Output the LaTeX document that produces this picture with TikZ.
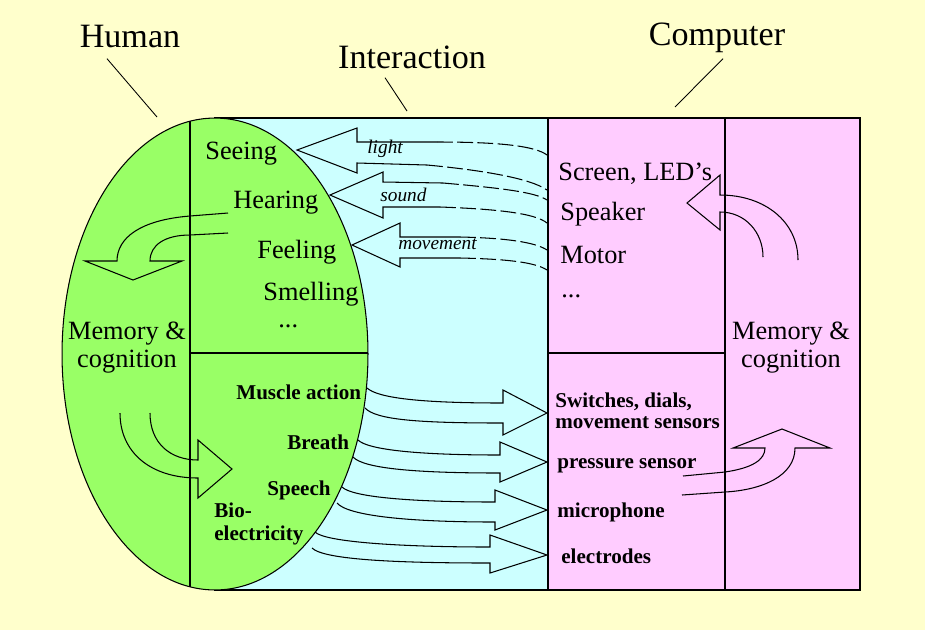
\documentclass[tikz,border=0pt]{standalone}
\usepackage{fontspec}
\setmainfont{Liberation Serif}
\usepackage{xcolor}
\usepackage{tikz}
\definecolor{hcibg}{HTML}{FFFFCC}
\definecolor{hcigreen}{HTML}{99FF66}
\definecolor{hcicyan}{HTML}{CCFFFF}
\definecolor{hcipink}{HTML}{FFCCFF}

\begin{document}
\begin{tikzpicture}[x=0.02cm, y=-0.02cm,
  every node/.style={inner sep=0pt, text=black},
  title/.style={font=\fontsize{19.4pt}{22pt}\selectfont, anchor=base},
  sense/.style={font=\fontsize{15pt}{16pt}\selectfont, anchor=base west},
  act/.style={font=\fontsize{12pt}{12pt}\selectfont\bfseries, anchor=base west, align=left},
  medium/.style={font=\fontsize{11pt}{12pt}\selectfont\itshape, anchor=base west},
  mind/.style={font=\fontsize{15pt}{16pt}\selectfont, align=center},
  frame/.style={draw=black, line width=0.6pt},
  outline/.style={draw=black, line width=0.6pt, line join=miter},
  wave/.style={outline, dash pattern=on 9pt off 2.5pt},
  leader/.style={draw=black, line width=0.5pt}
]
  \useasboundingbox (0,0) rectangle (925,630);
  \fill[hcibg] (0,0) rectangle (925,630);

  % panels
  \filldraw[fill=hcicyan, frame] (215,118) rectangle (548,590);
  \filldraw[fill=hcipink, frame] (548,118) rectangle (860,590);
  \draw[frame] (725,118) -- (725,590);
  \draw[frame] (548,353) -- (725,353);

  % the human
  \filldraw[fill=hcigreen, frame] (215,354) ellipse [x radius=3.06cm, y radius=4.72cm];
  \begin{scope}
    \clip (215,354) ellipse [x radius=3.06cm, y radius=4.72cm];
    \draw[frame] (190,100) -- (190,600);
    \draw[frame] (190,353) -- (400,353);
  \end{scope}

  % titles
  \node[title] (human) at (130,47) {Human};
  \node[title] (interaction) at (412,68) {Interaction};
  \node[title] (computer) at (717,45) {Computer};
  \coordinate (humanfoot) at (157,117);
  \coordinate (interfoot) at (407,111);
  \coordinate (compfoot) at (675,107);
  \draw[leader] ([shift={(-23,11)}]human.south) -- (humanfoot);
  \draw[leader] ([shift={(-27,9)}]interaction.south) -- (interfoot);
  \draw[leader] ([shift={(6,6)}]computer.south) -- (compfoot);

  % senses
  \node[sense] (seeing) at (205,159) {Seeing};
  \node[sense] (hearing) at (233,208) {Hearing};
  \node[sense] (feeling) at (257,258) {Feeling};
  \node[sense] (smelling) at (263,300) {Smelling};
  \node[sense] (hmore) at (278,327) {...};
  \node[mind] (hmind) at (127,348) {Memory \&\\cognition};

  % effectors
  \node[act] (muscle) at (236,399) {Muscle action};
  \node[act] (breath) at (287,449) {Breath};
  \node[act] (speech) at (267,495) {Speech};
  \node[act, anchor=west] (bio) at (214,524) {Bio-\\[1pt]electricity};

  % outputs of the machine
  \node[sense] (screen) at (558,180) {Screen, LED's};
  \node[sense] (speaker) at (560,220) {Speaker};
  \node[sense] (motor) at (560,263) {Motor};
  \node[sense] (cmore) at (561,297) {...};
  \node[mind] (cmind) at (791,348) {Memory \&\\cognition};

  % inputs of the machine
  \node[act, anchor=west] (switches) at (555,411) {Switches, dials,\\movement sensors};
  \node[act] (pressure) at (557,468) {pressure sensor};
  \node[act] (micro) at (557,517) {microphone};
  \node[act] (electrodes) at (561,563) {electrodes};

  % media
  \node[medium] (light) at (367,153) {light};
  \node[medium] (sound) at (380,201) {sound};
  \node[medium] (movement) at (398,249) {movement};

  % computer -> human
  \draw[outline] (437,142) -- (357,142) -- (357,128) -- (297,150) -- (357,173) -- (357,163) -- (427,165);
  \draw[wave] (437,142) .. controls (500,142) and (535,146) .. (547,155);
  \draw[wave] (427,165) .. controls (480,170) and (530,178) .. (547,190);
  \draw[outline] (443,183) -- (383,182) -- (383,172) -- (330,195) -- (383,218) -- (383,207) -- (440,207);
  \draw[wave] (443,183) .. controls (500,188) and (535,192) .. (547,200);
  \draw[wave] (440,207) .. controls (495,209) and (535,213) .. (547,223);
  \draw[outline] (460,237) -- (400,237) -- (400,223) -- (352,245) -- (400,267) -- (400,258) -- (460,258);
  \draw[wave] (460,237) .. controls (505,238) and (535,242) .. (547,250);
  \draw[wave] (460,258) .. controls (505,259) and (535,262) .. (547,270);

  % human -> computer
  \draw[outline] (367,388) .. controls (378,398) and (420,403) .. (503,403) -- (503,390) -- (547,413)
    -- (503,435) -- (503,423) .. controls (420,423) and (376,420) .. (365,408);
  \draw[outline] (358,440) .. controls (368,450) and (420,455) .. (500,455) -- (500,442) -- (547,462)
    -- (500,482) -- (500,473) .. controls (420,473) and (364,469) .. (353,457);
  \draw[outline] (342,487) .. controls (352,497) and (410,502) .. (495,502) -- (495,490) -- (547,510)
    -- (495,530) -- (495,522) .. controls (410,522) and (348,516) .. (337,503);
  \draw[outline] (315,532) .. controls (325,542) and (400,547) .. (490,547) -- (490,535) -- (547,555)
    -- (490,573) -- (490,563) .. controls (400,563) and (324,560) .. (312,548);

  % inside the human
  \draw[outline] (228,213) -- (190,216) .. controls (140,220) and (117,238) .. (117,261) -- (85,261)
    -- (133,280) -- (182,261) -- (150,261) .. controls (150,245) and (165,235) .. (190,235) -- (228,233);
  \draw[outline] (120,413) .. controls (120,452) and (150,478) .. (198,478) -- (198,498) -- (232,469)
    -- (198,440) -- (198,460) .. controls (170,460) and (150,443) .. (150,413);

  % inside the computer
  \draw[outline] (798,260) .. controls (798,222) and (765,195) .. (720,195) -- (720,175) -- (687,203)
    -- (720,230) -- (720,212) .. controls (745,212) and (763,232) .. (763,257);
  \draw[outline] (683,476) -- (725,472) .. controls (752,468) and (765,460) .. (765,448) -- (733,448)
    -- (782,429) -- (830,448) -- (795,448) .. controls (795,476) and (762,490) .. (725,492) -- (682,495);
\end{tikzpicture}
\end{document}
